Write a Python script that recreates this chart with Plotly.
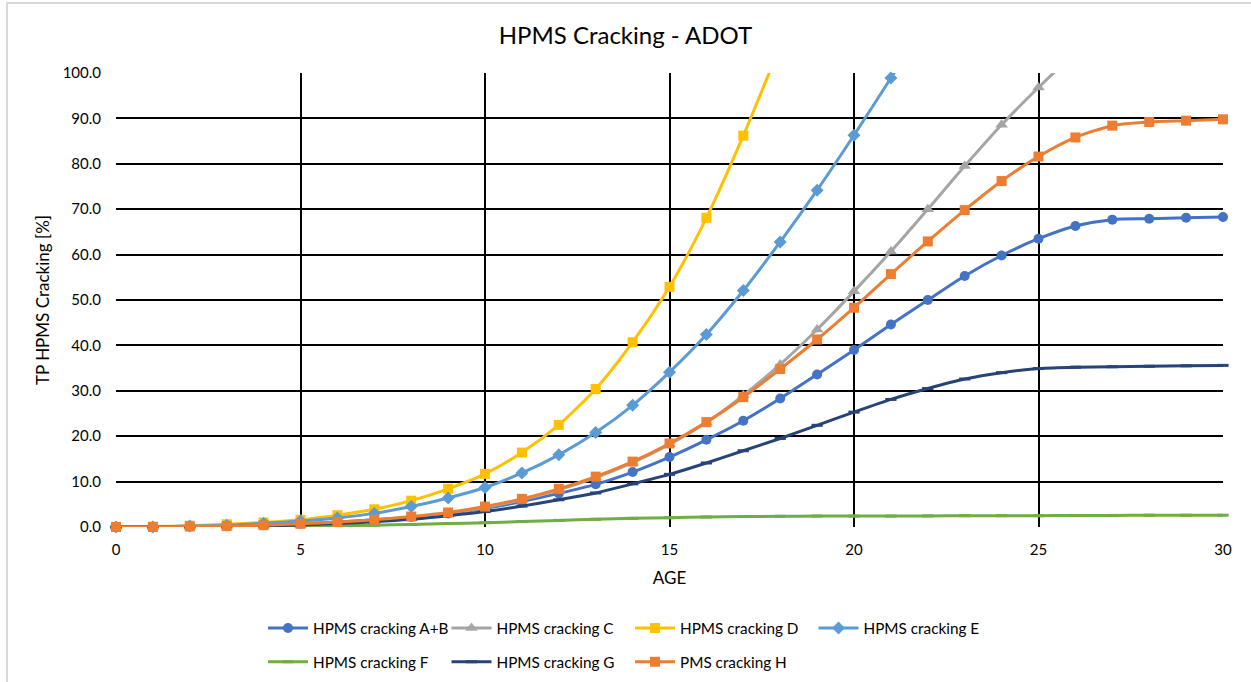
import plotly.graph_objects as go

age = list(range(0, 31))

ab = [0, 0, 0.1, 0.2, 0.4, 0.7, 1.1, 1.6, 2.2, 3.0, 4.1, 5.6, 7.4, 9.4, 12.1, 15.4, 19.2,
      23.4, 28.3, 33.6, 39.0, 44.6, 50.0, 55.3, 59.8, 63.5, 66.3, 67.7, 67.9, 68.1, 68.3]
c = [0, 0, 0.1, 0.1, 0.3, 0.5, 0.8, 1.3, 2.0, 3.0, 4.3, 6.0, 8.2, 10.9, 14.2, 18.2, 23.0,
     29.0, 35.8, 43.5, 51.9, 60.7, 70.0, 79.5, 88.6, 96.8, 104.5, 111.0]
d = [0, 0.1, 0.3, 0.6, 1.0, 1.6, 2.6, 3.9, 5.8, 8.4, 11.7, 16.4, 22.5, 30.4, 40.7, 52.9,
     68.1, 86.2, 106.0]
e = [0, 0, 0.2, 0.4, 0.8, 1.3, 2.0, 3.0, 4.5, 6.4, 8.7, 11.9, 15.9, 20.8, 26.8, 34.1,
     42.4, 52.1, 62.8, 74.2, 86.3, 98.9, 112.0]
f = [0, 0, 0.05, 0.1, 0.15, 0.2, 0.3, 0.4, 0.55, 0.75, 0.95, 1.2, 1.45, 1.7, 1.9, 2.05,
     2.2, 2.3, 2.35, 2.4, 2.4, 2.4, 2.45, 2.5, 2.5, 2.5, 2.55, 2.55, 2.6, 2.6, 2.6]
g = [0, 0, 0.05, 0.1, 0.25, 0.45, 0.75, 1.15, 1.7, 2.5, 3.4, 4.6, 6.0, 7.5, 9.5, 11.6,
     14.1, 16.8, 19.5, 22.4, 25.3, 28.1, 30.5, 32.6, 34.0, 34.9, 35.2, 35.3, 35.4, 35.5, 35.6]
h = [0, 0, 0.1, 0.2, 0.4, 0.7, 1.1, 1.6, 2.3, 3.2, 4.5, 6.2, 8.4, 11.1, 14.4, 18.4, 23.1,
     28.6, 34.8, 41.3, 48.3, 55.7, 62.9, 69.8, 76.2, 81.6, 85.8, 88.4, 89.2, 89.5, 89.8]

names = ["HPMS cracking A+B", "HPMS cracking C", "HPMS cracking D", "HPMS cracking E",
         "HPMS cracking F", "HPMS cracking G", "PMS cracking H"]
x_ticks = [0, 5, 10, 15, 20, 25, 30]
y_ticks = [0, 10, 20, 30, 40, 50, 60, 70, 80, 90, 100]

FONT = "Lato"
series = [
    (ab, "#4472C4", "circle", 10, "legend"),
    (c, "#A5A5A5", "triangle-up", 11, "legend"),
    (d, "#FFC000", "square", 10, "legend"),
    (e, "#5B9BD5", "diamond", 10, "legend"),
    (f, "#70AD47", "line-ew", 8, "legend2"),
    (g, "#264478", "line-ew", 8, "legend2"),
    (h, "#ED7D31", "square", 10, "legend2"),
]

fig = go.Figure()
for (vals, col, sym, size, leg), name in zip(series, names):
    xs = age[:len(vals)]
    op = [1 if v <= 100 else 0 for v in vals]
    mk = dict(symbol=sym, size=size, color=col, opacity=op)
    if sym == "line-ew":
        mk["line"] = dict(color=col, width=3)
    fig.add_trace(go.Scatter(
        x=xs, y=vals, name=name, mode="lines+markers",
        line=dict(color=col, width=3, shape="spline", smoothing=0.7),
        marker=mk, cliponaxis=False, legend=leg,
    ))

fig.update_layout(
    width=1251, height=682,
    margin=dict(l=116, r=28, t=73, b=155, autoexpand=False),
    paper_bgcolor="white", plot_bgcolor="white",
    font=dict(family=FONT, size=15, color="#000000"),
    title=dict(text="HPMS Cracking - ADOT", x=0.5, xanchor="center", y=0.948, yanchor="middle",
               font=dict(family=FONT, size=24, color="#000000")),
    xaxis=dict(range=[0, 30], tickvals=x_ticks, showgrid=True, gridcolor="#000000", gridwidth=2,
               zeroline=False, showline=False, ticks="", ticklabelstandoff=12,
               tickfont=dict(size=15),
               title=dict(text="AGE", font=dict(size=17), standoff=15)),
    yaxis=dict(range=[0, 100], tickvals=y_ticks, tickformat=".1f", showgrid=True,
               gridcolor="#000000", gridwidth=2, zeroline=False, showline=False, ticks="",
               ticklabelstandoff=14, tickfont=dict(size=15),
               title=dict(text="TP HPMS Cracking [%]", font=dict(size=17), standoff=8)),
    legend=dict(orientation="h", x=0.1328, xanchor="left", y=-0.2225, yanchor="middle",
                entrywidth=128.5, itemwidth=40, font=dict(size=15.3), bgcolor="rgba(0,0,0,0)"),
    legend2=dict(orientation="h", x=0.1328, xanchor="left", y=-0.297, yanchor="middle",
                 entrywidth=128.5, itemwidth=40, font=dict(size=15.3), bgcolor="rgba(0,0,0,0)"),
    showlegend=True,
)
fig.add_shape(type="rect", xref="paper", yref="paper", x0=-0.0985, x1=1.05, y0=-0.40, y1=1.154,
              line=dict(color="#D9D9D9", width=2), fillcolor="rgba(0,0,0,0)", layer="below")

fig.write_html("out.html")
